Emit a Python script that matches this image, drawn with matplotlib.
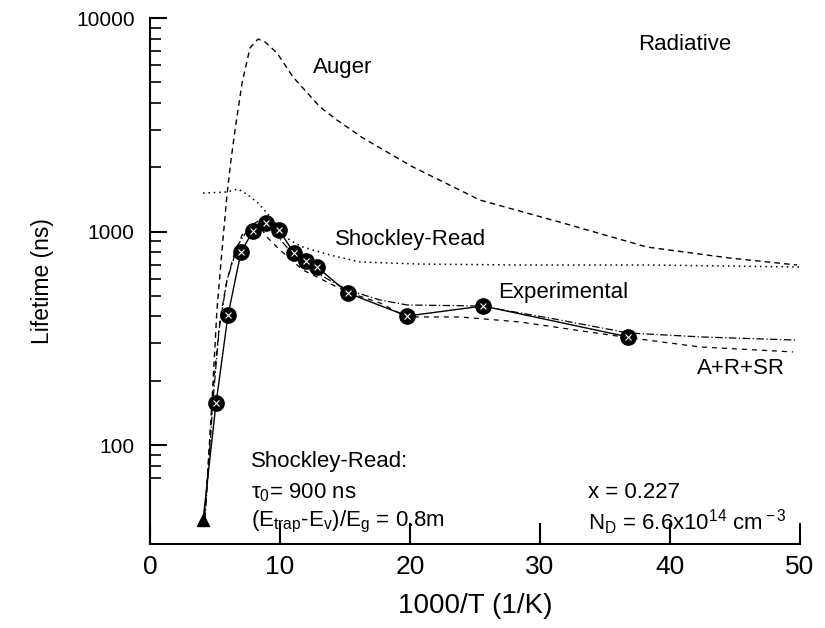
import numpy as np
import matplotlib
matplotlib.use('Agg')
import matplotlib.pyplot as plt
from matplotlib.ticker import FixedLocator, NullFormatter

plt.rcParams['font.family'] = ['Liberation Sans', 'DejaVu Sans']
plt.rcParams['mathtext.fontset'] = 'custom'
plt.rcParams['mathtext.rm'] = 'Liberation Sans'
plt.rcParams['mathtext.it'] = 'Liberation Sans:italic'

# experimental points (1000/T, lifetime ns)
exp_x = [5.08, 6.0, 7.0, 7.92, 8.92, 9.92, 11.08, 12.0, 12.85, 15.23, 19.77, 25.62, 36.77]
exp_y = [157, 406, 802, 1005, 1096, 1016, 793, 728, 682, 515, 402, 448, 321]
tri_x = [4.08]
tri_y = [44.5]

# model curves
auger_x = [4.08, 4.31, 4.77, 5.15, 5.54, 5.92, 6.23, 6.54, 7.08, 7.69, 8.31, 8.85, 9.77,
           11.0, 13.08, 14.38, 16.38, 20.23, 25.38, 31.77, 38.23, 44.62, 49.77]
auger_y = [43.6, 55.3, 162, 429, 819, 1483, 2162, 2988, 4961, 7236, 7973, 7720, 6857,
           5293, 3830, 3329, 2741, 2005, 1404, 1096, 846, 751, 697]

sr_x = [4.08, 5.92, 6.77, 7.54, 8.31, 9.0, 9.77, 10.54, 11.54, 13.85, 16.15, 20.77, 28.46, 38.46, 50]
sr_y = [1514, 1531, 1582, 1483, 1360, 1221, 1072, 932, 855, 776, 720, 704, 697, 697, 682]

fit_x = [4.23, 4.54, 4.85, 5.31, 5.92, 6.77, 7.69, 8.46, 9.23, 10.38, 11.54, 13.08, 15.23,
         17.69, 19.77, 25.38, 30.77, 36.77, 42.31, 49.77]
fit_y = [44.5, 85.1, 162, 346, 593, 865, 1061, 1132, 1038, 865, 720, 626, 532,
         478, 453, 448, 393, 335, 321, 310]

arsr_x = [4.15, 4.46, 4.92, 5.38, 5.85, 6.38, 7.08, 7.69, 8.31, 9.0, 10.0, 11.77, 13.62,
          15.15, 17.69, 19.77, 23.85, 28.46, 36.38, 42.31, 49.46]
arsr_y = [42.2, 76.4, 202, 385, 562, 751, 963, 1061, 1084, 942, 819, 660, 580,
          521, 463, 398, 398, 377, 321, 288, 273]

fig = plt.figure(figsize=(8.25, 6.28), dpi=100)
ax = fig.add_axes([150 / 825, 1 - 544 / 628, 650 / 825, 526 / 628])

ax.plot(auger_x, auger_y, color='black', lw=1.0, ls=(0, (4, 3)))
ax.plot(sr_x, sr_y, color='black', lw=1.1, ls=(0, (1, 2.5)))
ax.plot(fit_x, fit_y, color='black', lw=0.9, ls=(0, (6, 2, 1, 2)))
ax.plot(arsr_x, arsr_y, color='black', lw=0.9, ls=(0, (4, 4)))
ax.plot(tri_x + exp_x, tri_y + exp_y, color='black', lw=1.0)
ax.plot(exp_x, exp_y, 'o', color='black', ms=11)
ax.plot(exp_x, exp_y, 'x', color='white', ms=5, mew=0.8)
ax.plot(tri_x, tri_y, '^', color='black', ms=8)

ax.set_yscale('log')
ax.set_xlim(0, 50)
ax.set_ylim(34.4, 10000)
ax.spines['top'].set_visible(False)
ax.spines['right'].set_visible(False)
ax.spines['left'].set_linewidth(1.5)
ax.spines['bottom'].set_linewidth(1.5)

ax.set_xticks([0, 10, 20, 30, 40, 50])
ax.yaxis.set_major_locator(FixedLocator([100, 1000, 10000]))
ax.yaxis.set_minor_locator(FixedLocator([70, 80, 90] + list(range(200, 1000, 100)) + list(range(2000, 10000, 1000))))
ax.yaxis.set_minor_formatter(NullFormatter())
ax.set_yticklabels(['100', '1000', '10000'])
ax.tick_params(axis='x', direction='in', length=15, width=1.5, labelsize=19, pad=8)
ax.tick_params(axis='y', which='major', direction='in', length=12, width=1.5, labelsize=15, pad=11)
ax.tick_params(axis='y', which='minor', direction='in', length=8, width=1.2)

ax.set_xlabel('1000/T (1/K)', fontsize=20, labelpad=10)
ax.set_ylabel('Lifetime (ns)', fontsize=16.5, labelpad=16)

fs = 16
def label(px, py, s):
    ax.annotate(s, xy=(px / 825, 1 - py / 628), xycoords='figure fraction',
                fontsize=fs, va='center', ha='left')

label(313, 68, 'Auger')
label(638, 45, 'Radiative')
label(335, 240, 'Shockley-Read')
label(498, 293, 'Experimental')
label(697, 369, 'A+R+SR')
label(251, 462, 'Shockley-Read:')
label(251, 493, r'τ$_{\rm 0}$= 900 ns')
label(251, 522, r'(E$_{\rm trap}$-E$_{\rm v}$)/E$_{\rm g}$ = 0.8m')
label(588, 493, 'x = 0.227')
label(588, 522, r'N$_{\rm D}$ = 6.6x10$^{\rm 14}$ cm$^{\rm -3}$')

fig.savefig('out.png', dpi=100)
